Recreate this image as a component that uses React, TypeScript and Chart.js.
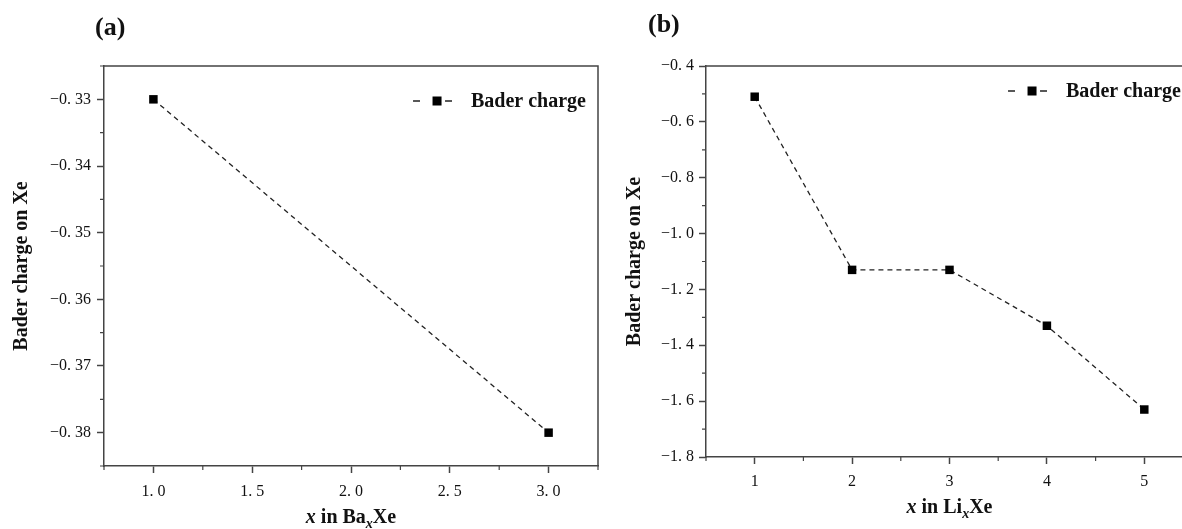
import React, { useEffect, useRef } from "react";
import { Chart, registerables } from "chart.js";

Chart.register(...registerables);

// ---- data ----
const baX = [1.0, 3.0];
const baCharge = [-0.33, -0.38];
const liX = [1, 2, 3, 4, 5];
const liCharge = [-0.51, -1.13, -1.13, -1.33, -1.63];

// ---- ticks ----
const baXTicks = [1.0, 1.5, 2.0, 2.5, 3.0];
const baXMinor = [0.75, 1.25, 1.75, 2.25, 2.75, 3.25];
const baYTicks = [-0.38, -0.37, -0.36, -0.35, -0.34, -0.33];
const baYMinor = [-0.385, -0.375, -0.365, -0.355, -0.345, -0.335, -0.325];
const liXTicks = [1, 2, 3, 4, 5];
const liXMinor = [0.5, 1.5, 2.5, 3.5, 4.5, 5.5];
const liYTicks = [-1.8, -1.6, -1.4, -1.2, -1.0, -0.8, -0.6, -0.4];
const liYMinor = [-1.7, -1.5, -1.3, -1.1, -0.9, -0.7, -0.5];

const legendLabel = "Bader charge";
const yTitle = "Bader charge on Xe";

const AXIS = "#444";
const TXT = "#111";
const SERIF = "'Liberation Serif', 'Times New Roman', serif";

function fmt(v: number, digits: number): string {
  let s = Math.abs(v).toFixed(digits);
  if (digits > 0) s = s.replace(".", ". ");
  return (v < 0 ? "\u2212" : "") + s;
}

type Panel = {
  label: string;
  xs: number[];
  ys: number[];
  xMin: number; xMax: number; yMin: number; yMax: number;
  xTicks: number[]; xMinor: number[]; yTicks: number[]; yMinor: number[];
  xDigits: number; yDigits: number;
  elem: string;
  area: { left: number; top: number; right: number; bottom: number };
  width: number; height: number;
  legendY: number;
  labelPos: { x: number; y: number };
  yTitleX: number;
  xTitleBase: number;
  xTickPad: number;
  yTickPad: number;
};

function makeDecor(p: Panel) {
  return {
    id: "decor" + p.elem,
    afterDraw(chart: any) {
      const ctx: CanvasRenderingContext2D = chart.ctx;
      const a = chart.chartArea;
      const xs = chart.scales.x;
      const ys = chart.scales.y;
      ctx.save();
      // top & right frame
      ctx.strokeStyle = AXIS;
      ctx.lineWidth = 1.5;
      ctx.beginPath();
      ctx.moveTo(a.left, a.top);
      ctx.lineTo(a.right, a.top);
      ctx.lineTo(a.right, a.bottom);
      ctx.stroke();
      // minor ticks
      ctx.lineWidth = 1.2;
      ctx.beginPath();
      for (const v of p.xMinor) {
        const px = xs.getPixelForValue(v);
        ctx.moveTo(px, a.bottom);
        ctx.lineTo(px, a.bottom + 4);
      }
      for (const v of p.yMinor) {
        const py = ys.getPixelForValue(v);
        ctx.moveTo(a.left, py);
        ctx.lineTo(a.left - 4, py);
      }
      ctx.stroke();

      // legend
      ctx.font = `bold 20px ${SERIF}`;
      ctx.fillStyle = TXT;
      ctx.textBaseline = "middle";
      ctx.textAlign = "left";
      const tw = ctx.measureText(legendLabel).width;
      const textX = a.right - 12 - tw;
      const ly = p.legendY;
      ctx.fillText(legendLabel, textX, ly + 1);
      ctx.strokeStyle = "#222";
      ctx.lineWidth = 1.4;
      ctx.beginPath();
      ctx.moveTo(textX - 58, ly);
      ctx.lineTo(textX - 51, ly);
      ctx.moveTo(textX - 26, ly);
      ctx.lineTo(textX - 19, ly);
      ctx.stroke();
      ctx.fillStyle = "#000";
      ctx.fillRect(textX - 34 - 4.5, ly - 4.5, 9, 9);

      // y title
      ctx.fillStyle = TXT;
      ctx.save();
      ctx.translate(p.yTitleX, (a.top + a.bottom) / 2);
      ctx.rotate(-Math.PI / 2);
      ctx.textAlign = "center";
      ctx.textBaseline = "middle";
      ctx.font = `bold 20px ${SERIF}`;
      ctx.fillText(yTitle, 0, 0);
      ctx.restore();

      // x title: x in <elem>_x Xe
      const parts = [
        { t: "x", f: `italic bold 20px ${SERIF}`, dy: 0 },
        { t: " in " + p.elem, f: `bold 20px ${SERIF}`, dy: 0 },
        { t: "x", f: `italic bold 14px ${SERIF}`, dy: 5 },
        { t: "Xe", f: `bold 20px ${SERIF}`, dy: 0 },
      ];
      let total = 0;
      for (const pt of parts) {
        ctx.font = pt.f;
        total += ctx.measureText(pt.t).width;
      }
      let cx = (a.left + a.right) / 2 - total / 2;
      ctx.textAlign = "left";
      ctx.textBaseline = "alphabetic";
      for (const pt of parts) {
        ctx.font = pt.f;
        ctx.fillText(pt.t, cx, p.xTitleBase + pt.dy);
        cx += ctx.measureText(pt.t).width;
      }

      // panel label
      ctx.font = `bold 26px ${SERIF}`;
      ctx.textBaseline = "middle";
      ctx.fillText(p.label, p.labelPos.x, p.labelPos.y);
      ctx.restore();
    },
  };
}

function makeConfig(p: Panel): any {
  const tickFont = { family: SERIF, size: 16 };
  const grid = {
    drawOnChartArea: false,
    drawTicks: true,
    tickLength: 7,
    tickWidth: 1.5,
    tickColor: AXIS,
    color: AXIS,
  };
  const border = { display: true, color: AXIS, width: 1.5 };
  return {
    type: "line",
    data: {
      datasets: [
        {
          label: legendLabel,
          data: p.xs.map((x, i) => ({ x, y: p.ys[i] })),
          borderColor: "#222",
          borderWidth: 1.3,
          borderDash: [5, 4],
          pointStyle: "rect",
          pointRadius: 6,
          pointBorderWidth: 0,
          pointBackgroundColor: "#000",
          pointBorderColor: "#000",
          fill: false,
          tension: 0,
        },
      ],
    },
    options: {
      responsive: false,
      animation: false,
      devicePixelRatio: 1,
      layout: {
        padding: {
          left: 0,
          top: p.area.top,
          right: p.width - p.area.right,
          bottom: 0,
        },
      },
      plugins: { legend: { display: false }, title: { display: false }, tooltip: { enabled: false } },
      scales: {
        x: {
          type: "linear",
          min: p.xMin,
          max: p.xMax,
          afterBuildTicks: (s: any) => {
            s.ticks = p.xTicks.map((value) => ({ value }));
          },
          afterFit: (s: any) => {
            s.height = p.height - p.area.bottom;
          },
          grid,
          border,
          ticks: {
            callback: (v: any) => fmt(Number(v), p.xDigits),
            font: tickFont,
            color: TXT,
            padding: p.xTickPad,
            maxRotation: 0,
            autoSkip: false,
          },
        },
        y: {
          type: "linear",
          min: p.yMin,
          max: p.yMax,
          afterBuildTicks: (s: any) => {
            s.ticks = p.yTicks.map((value) => ({ value }));
          },
          afterFit: (s: any) => {
            s.width = p.area.left;
          },
          grid,
          border,
          ticks: {
            callback: (v: any) => fmt(Number(v), p.yDigits),
            font: tickFont,
            color: TXT,
            padding: p.yTickPad,
            autoSkip: false,
          },
        },
      },
    },
    plugins: [makeDecor(p)],
  };
}

const panelA: Panel = {
  label: "(a)",
  xs: baX,
  ys: baCharge,
  xMin: 0.75, xMax: 3.25, yMin: -0.385, yMax: -0.325,
  xTicks: baXTicks, xMinor: baXMinor, yTicks: baYTicks, yMinor: baYMinor,
  xDigits: 1, yDigits: 2,
  elem: "Ba",
  area: { left: 104, top: 66, right: 598, bottom: 466 },
  width: 610, height: 529,
  legendY: 101,
  labelPos: { x: 95, y: 28 },
  yTitleX: 22,
  xTitleBase: 523,
  xTickPad: 9,
  yTickPad: 6,
};

const panelB: Panel = {
  label: "(b)",
  xs: liX,
  ys: liCharge,
  xMin: 0.5, xMax: 5.5, yMin: -1.8, yMax: -0.4,
  xTicks: liXTicks, xMinor: liXMinor, yTicks: liYTicks, yMinor: liYMinor,
  xDigits: 0, yDigits: 1,
  elem: "Li",
  area: { left: 96, top: 66, right: 583, bottom: 457 },
  width: 600, height: 529,
  legendY: 91,
  labelPos: { x: 38, y: 25 },
  yTitleX: 25,
  xTitleBase: 513,
  xTickPad: 8,
  yTickPad: 5,
};

function ChartCanvas({ panel, left }: { panel: Panel; left: number }) {
  const ref = useRef<HTMLCanvasElement | null>(null);
  useEffect(() => {
    if (!ref.current) return;
    const chart = new Chart(ref.current, makeConfig(panel));
    return () => chart.destroy();
  }, [panel]);
  return (
    <canvas
      ref={ref}
      width={panel.width}
      height={panel.height}
      style={{ position: "absolute", left, top: 0, width: panel.width, height: panel.height }}
    />
  );
}

export default function App() {
  return (
    <div
      style={{
        position: "fixed",
        left: 0,
        top: 0,
        width: 1182,
        height: 529,
        overflow: "hidden",
        background: "#fff",
      }}
    >
      <ChartCanvas panel={panelA} left={0} />
      <ChartCanvas panel={panelB} left={610} />
    </div>
  );
}
